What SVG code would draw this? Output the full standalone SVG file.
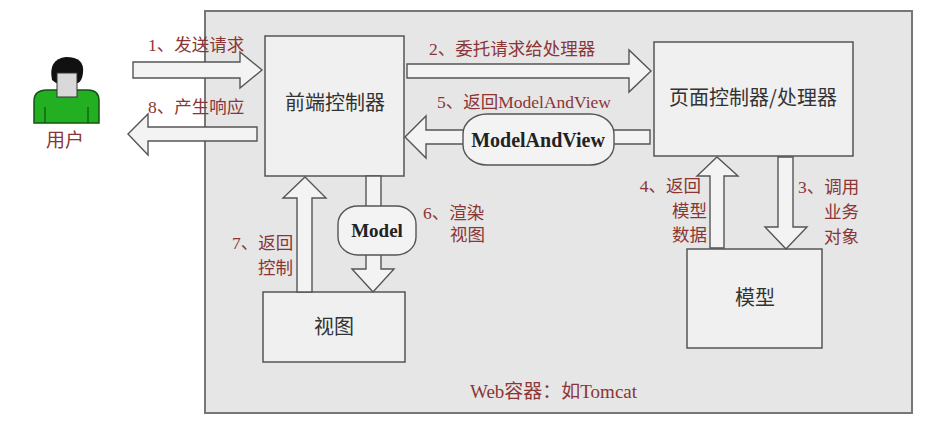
<svg xmlns="http://www.w3.org/2000/svg" width="933" height="434" viewBox="0 0 933 434">
<style>
.box{fill:#f0f0f0;stroke:#555;stroke-width:1.5}
.arr{fill:#f3f3f3;stroke:#555;stroke-width:1.4;stroke-linejoin:miter}
.oval{fill:#f3f3f3;stroke:#555;stroke-width:1.4}
.lbl{font-family:"Noto Sans CJK SC","Noto Sans",sans-serif;font-size:20px;fill:#333;text-anchor:middle}
.red{font-family:"Liberation Serif","Noto Sans CJK SC",serif;font-size:17.5px;fill:#8b3535}
.bold{font-family:"Liberation Serif",serif;font-weight:bold;fill:#222;text-anchor:middle}
</style>
<rect width="933" height="434" fill="#ffffff"/>
<rect id="container" x="205" y="11" width="707" height="402" fill="#e6e6e6" stroke="#777" stroke-width="2"/>

<g id="user">
  <path d="M34,123 L34,101 Q34,90 47,90 L88,90 Q99,90 99,101 L99,123 Z" fill="#22b022" stroke="#145214" stroke-width="1.5"/>
  <line x1="45" y1="107" x2="45" y2="123" stroke="#145214" stroke-width="1.2"/>
  <line x1="88" y1="107" x2="88" y2="123" stroke="#145214" stroke-width="1.2"/>
  <path d="M52,80 Q48,59 66,57 Q85,57 83,73 Q82,81 78,83 L56,83 Z" fill="#111"/>
  <rect x="57" y="73" width="20" height="24" fill="#d9d9d9" stroke="#333" stroke-width="1"/>
  <text class="lbl" x="65" y="147" style="fill:#8b3535;font-size:19px">用户</text>
</g>

<g id="front-controller">
  <rect class="box" x="265" y="36" width="139" height="140"/>
  <text class="lbl" x="335" y="110">前端控制器</text>
</g>
<g id="page-controller">
  <rect class="box" x="654" y="42" width="199" height="114"/>
  <text class="lbl" x="753" y="105">页面控制器/处理器</text>
</g>
<g id="view">
  <rect class="box" x="263" y="292" width="142" height="70"/>
  <text class="lbl" x="334" y="334">视图</text>
</g>
<g id="model">
  <rect class="box" x="687" y="249" width="135" height="99"/>
  <text class="lbl" x="755" y="305">模型</text>
</g>

<g id="connectors">
  <polygon class="arr" points="133,62 240,62 240,52 262,70 240,88 240,78 133,78"/>
  <polygon class="arr" points="257,127 148,127 148,114 128,134 148,155 148,141 257,141"/>
  <polygon class="arr" points="407,64 629,64 629,50 651,71 629,92 629,78 407,78"/>
  <polygon class="arr" points="650,130 426,130 426,116 405,137 426,158 426,144 650,144"/>
  <rect class="oval" x="463" y="114" width="151" height="51" rx="24" ry="20"/>
  <text class="bold" x="538" y="147" font-size="20">ModelAndView</text>
  <polygon class="arr" points="710,248 710,176 697,176 717,157 738,176 724,176 724,248"/>
  <polygon class="arr" points="778,157 778,227 765,227 786,249 807,227 793,227 793,157"/>
  <polygon class="arr" points="297,292 297,198 283,198 305,177 326,198 312,198 312,292"/>
  <polygon class="arr" points="366,176 366,269 352,269 373,292 394,269 381,269 381,176"/>
  <rect class="oval" x="338" y="206" width="78" height="49" rx="20" ry="18"/>
  <text class="bold" x="377" y="237" font-size="19">Model</text>
</g>

<g id="labels">
  <text class="red" x="148" y="51">1、发送请求</text>
  <text class="red" x="148" y="113">8、产生响应</text>
  <text class="red" x="429" y="55">2、委托请求给处理器</text>
  <text class="red" x="437" y="108">5、返回ModelAndView</text>
  <text class="red" x="701" y="192" text-anchor="end">4、返回</text>
  <text class="red" x="707" y="217" text-anchor="end">模型</text>
  <text class="red" x="707" y="241" text-anchor="end">数据</text>
  <text class="red" x="798" y="193">3、调用</text>
  <text class="red" x="824" y="218">业务</text>
  <text class="red" x="824" y="243">对象</text>
  <text class="red" x="423" y="219">6、渲染</text>
  <text class="red" x="450" y="241">视图</text>
  <text class="red" x="232" y="249">7、返回</text>
  <text class="red" x="258" y="274">控制</text>
  <text class="red" x="470" y="398" style="font-size:19px">Web容器：如Tomcat</text>
</g>
</svg>
